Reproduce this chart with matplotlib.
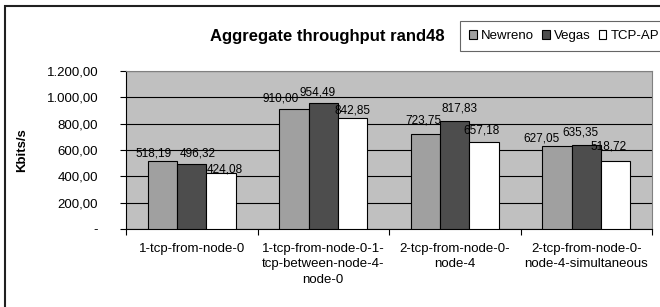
import matplotlib
matplotlib.use('Agg')
import matplotlib.pyplot as plt
import matplotlib.patches as mpatches
import numpy as np

plt.rcParams['font.family'] = ['Liberation Sans', 'DejaVu Sans']

# datos
categorias = ['1-tcp-from-node-0',
              '1-tcp-from-node-0-1-\ntcp-between-node-4-\nnode-0',
              '2-tcp-from-node-0-\nnode-4',
              '2-tcp-from-node-0-\nnode-4-simultaneous']
newreno = [518.19, 910.00, 723.75, 627.05]
vegas = [496.32, 954.49, 817.83, 635.35]
tcp_ap = [424.08, 842.85, 657.18, 518.72]
series = ['Newreno', 'Vegas', 'TCP-AP']
colores = ['#a0a0a0', '#4d4d4d', '#ffffff']
yticks = [0, 200, 400, 600, 800, 1000, 1200]
ytick_labels = ['-', '200,00', '400,00', '600,00', '800,00', '1.000,00', '1.200,00']

# desplazamiento de las etiquetas (px) como en el original: [serie][grupo] -> (dx, dy)
desplaz = [[(-9, 7), (-13, 11), (-2, 13), (-16, 8)],
           [(6, 10), (-6, 11), (5, 13), (-6, 13)],
           [(4, 4), (0, 8), (-2, 12), (-7, 14)]]

def fmt(v):
    return f'{v:,.2f}'.replace(',', 'X').replace('.', ',').replace('X', '.')

fig = plt.figure(figsize=(6.6, 3.07), dpi=100)
ax = fig.add_axes([126/660, 1 - 229/307, (652 - 126)/660, (229 - 71)/307])
ax.set_facecolor('#c0c0c0')

x = np.arange(len(categorias))
w = 2/9
for i, (vals, col, nom) in enumerate(zip([newreno, vegas, tcp_ap], colores, series)):
    pos = x + (i - 1) * w
    ax.bar(pos, vals, w, color=col, edgecolor='black', linewidth=0.8,
           label=nom, zorder=3)
    for j, (p, v) in enumerate(zip(pos, vals)):
        dx, dy = desplaz[i][j]
        ax.annotate(fmt(v), (p, v), xytext=(dx * 0.72, dy * 0.72),
                    textcoords='offset points', ha='center', va='center',
                    fontsize=8.5, zorder=4)

ax.set_xlim(-0.5, len(categorias) - 0.5)
ax.set_ylim(0, 1200)
ax.set_yticks(yticks)
ax.set_yticklabels(ytick_labels, fontsize=9.5)
ax.yaxis.grid(True, color='black', linewidth=0.8, zorder=1)
ax.set_axisbelow(True)

ax.set_xticks(x)
ax.set_xticklabels(categorias, fontsize=9.5, linespacing=1.4)
ax.tick_params(axis='x', length=0, pad=10)
ax.set_xticks(np.arange(-0.5, len(categorias), 1), minor=True)
ax.tick_params(axis='x', which='minor', length=4, width=0.8, direction='out')
ax.tick_params(axis='y', length=4, width=0.8, direction='out', pad=16)

for s in ['top', 'right']:
    ax.spines[s].set_color('#808080')
for s in ['left', 'bottom']:
    ax.spines[s].set_color('black')
for s in ax.spines.values():
    s.set_linewidth(0.8)

ax.set_ylabel('Kbits/s', fontsize=9.5, fontweight='bold')
ax.yaxis.set_label_coords((28 - 126) / 526, 0.5)

fig.text(327/660, 1 - 37/307, 'Aggregate throughput rand48', ha='center', va='center',
         fontsize=12, fontweight='bold')

leg = fig.legend(loc='upper left', bbox_to_anchor=(460/660, 1 - 21/307), ncol=3,
                 fontsize=9.5, frameon=True, fancybox=False, handlelength=0.6,
                 handleheight=0.6, handletextpad=0.3, columnspacing=0.6,
                 borderpad=0.7, borderaxespad=0)
leg.get_frame().set_edgecolor('#404040')
leg.get_frame().set_linewidth(0.8)

# marco exterior
fig.patches.append(mpatches.Rectangle((4.5/660, -0.1), 1.2, 1.1 - 6.5/307,
                                      transform=fig.transFigure, fill=False,
                                      edgecolor='#202020', linewidth=1.5))

fig.savefig('out.png', dpi=100)
